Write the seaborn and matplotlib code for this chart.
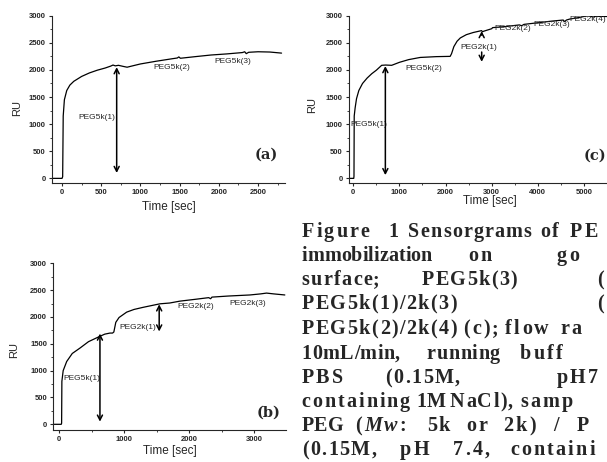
import numpy as np
import pandas as pd
import matplotlib
matplotlib.use("Agg")
import matplotlib.pyplot as plt
import seaborn as sns

# sensorgram (a): PEG5k(3)
time_a = [-130, 0, 8, 15, 30, 60, 100, 150, 250, 350, 450, 550, 620, 650, 680, 720, 780, 830, 900, 1000,
          1200, 1400, 1470, 1490, 1510, 1700, 1900, 2100, 2300, 2330, 2350, 2380, 2500, 2650, 2800]
ru_a = [0, 0, 30, 1150, 1450, 1620, 1720, 1790, 1880, 1945, 1995, 2035, 2070, 2090, 2075, 2085, 2065, 2050, 2075, 2110,
        2160, 2205, 2220, 2240, 2215, 2245, 2275, 2295, 2320, 2335, 2300, 2325, 2335, 2330, 2310]

# sensorgram (b): PEG5k(1)/2k(3)
time_b = [-90, 30, 36, 40, 60, 114, 200, 318, 450, 626, 700, 780, 820, 840, 870, 920, 1037, 1150, 1292, 1450,
          1549, 1700, 1857, 2100, 2300, 2330, 2350, 2600, 2934, 3100, 3190, 3300, 3472]
ru_b = [0, 0, 20, 800, 1000, 1170, 1320, 1420, 1540, 1640, 1680, 1700, 1700, 1720, 1900, 1990, 2090, 2140, 2180, 2220,
        2245, 2260, 2295, 2330, 2360, 2340, 2370, 2390, 2410, 2430, 2445, 2430, 2410]

# sensorgram (c): PEG5k(2)/2k(4)
time_c = [-90, 10, 15, 20, 40, 70, 120, 200, 300, 400, 500, 615, 700, 832, 1000, 1200, 1450, 1800, 2100, 2130,
          2180, 2250, 2320, 2450, 2600, 2780, 2800, 2850, 3000, 3020, 3300, 3600, 3650, 3700, 3900, 4300, 4550, 4580,
          4620, 4700, 4850, 5000, 5100, 5200, 5250, 5500]
ru_c = [0, 0, 40, 1150, 1300, 1470, 1620, 1750, 1850, 1930, 1995, 2085, 2090, 2085, 2140, 2190, 2230, 2245, 2250, 2300,
        2430, 2530, 2590, 2650, 2690, 2725, 2705, 2720, 2760, 2780, 2800, 2830, 2815, 2840, 2860, 2900, 2920, 2890,
        2920, 2940, 2960, 2985, 3000, 2975, 2990, 2985]

# injection labels (text, time, RU, ha)
labels_a = [("PEG5k(1)", 676, 1130, "right"), ("PEG5k(2)", 1400, 2040, "center"), ("PEG5k(3)", 2175, 2160, "center")]
labels_b = [("PEG5k(1)", 344, 857, "center"), ("PEG2k(1)", 1203, 1807, "center"),
            ("PEG2k(2)", 2100, 2192, "center"), ("PEG2k(3)", 2896, 2242, "center")]
labels_c = [("PEG5k(1)", 341, 1000, "center"), ("PEG5k(2)", 1530, 2030, "center"), ("PEG2k(1)", 2725, 2416, "center"),
            ("PEG2k(2)", 3451, 2767, "center"), ("PEG2k(3)", 4300, 2841, "center"), ("PEG2k(4)", 5076, 2933, "center")]

# arrows (time, RU start, RU end, style)
arrows_a = [(697, 2050, 100, "<->")]
arrows_b = [(626, 1690, 50, "<->"), (1538, 2235, 1730, "<->")]
arrows_c = [(695, 2070, 60, "<->"), (2783, 2640, 2715, "->"), (2783, 2330, 2150, "->")]

sns.set_style("ticks")
plt.rcParams["font.family"] = ["Liberation Sans", "DejaVu Sans"]

W, H = 607, 462
fig = plt.figure(figsize=(W / 100, H / 100), dpi=100)
renderer = fig.canvas.get_renderer()


def axes_px(left, top, right, bottom):
    return fig.add_axes([left / W, 1 - bottom / H, (right - left) / W, (bottom - top) / H])


def panel(ax, t, ru, labels, arrows, xlim, xmax_tick, ylim, xmajor, tag, tag_pos, xlab_y, ylab_xy):
    df = pd.DataFrame({"time": t, "RU": ru})
    sns.lineplot(data=df, x="time", y="RU", ax=ax, color="black", lw=0.9, sort=False, estimator=None)
    ax.set_xlim(*xlim)
    ax.set_ylim(*ylim)
    ax.set_xticks(np.arange(0, xmax_tick + 1, xmajor))
    ax.set_xticks(np.arange(0, xlim[1] + 1, xmajor / 2), minor=True)
    ax.set_yticks(np.arange(0, 3001, 500))
    ax.set_yticks(np.arange(0, 3001, 250), minor=True)
    ax.tick_params(which="major", length=2.5, width=0.8, pad=2, labelsize=5.5)
    ax.tick_params(which="minor", length=1.5, width=0.6)
    for lab in ax.get_xticklabels() + ax.get_yticklabels():
        lab.set_fontweight("bold")
    sns.despine(ax=ax)
    for s in ("left", "bottom"):
        ax.spines[s].set_linewidth(0.8)
    ax.set_xlabel("Time [sec]", fontsize=8.5)
    ax.xaxis.set_label_coords(0.5, xlab_y)
    ax.set_ylabel("RU", fontsize=8)
    ax.yaxis.set_label_coords(*ylab_xy)
    for txt, x, y, ha in labels:
        ax.text(x, y, txt, fontsize=6, ha=ha, va="center")
    for x, y0, y1, st in arrows:
        ax.annotate("", xy=(x, y1), xytext=(x, y0),
                    arrowprops=dict(arrowstyle=st + ",head_length=0.35,head_width=0.18", color="black", lw=1.1,
                                    shrinkA=0, shrinkB=0))
    ax.text(tag_pos[0], tag_pos[1], tag, fontsize=10.5, fontweight="bold", family="DejaVu Serif",
            ha=tag_pos[2], va="center")


ax_a = axes_px(52, 15.7, 285, 182.7)
panel(ax_a, time_a, ru_a, labels_a, arrows_a, (-128, 2844), 2500, (-80, 3000), 500, "(a)", (2600, 430, "center"),
      -0.11, (-0.129, 0.45))

ax_b = axes_px(53.3, 263.3, 286, 430)
panel(ax_b, time_b, ru_b, labels_b, arrows_b, (-92, 3490), 3000, (-106, 3000), 1000, "(b)", (3226, 216, "center"),
      -0.09, (-0.145, 0.48))

ax_c = axes_px(349, 15.7, 630.1, 182.7)
panel(ax_c, time_c, ru_c, labels_c, arrows_c, (-93, 6000), 5000, (-80, 3000), 1000, "(c)", (5000, 411, "left"),
      -0.074, (-0.112, 0.465))

# caption, cut by the right edge of the page: (baseline px, [(left px, right px, word)])
EDGE = 604
caption = [
    (237, [(301.7, 383.3, "Figure"), (388, 397, "1"), (408.3, 531.7, "Sensorgrams"), (540, 563.3, "of"),
           (570, EDGE, "PE")]),
    (261, [(301.7, 431.7, "immobilization"), (468.3, 493.3, "on"), (556.7, EDGE, "go")]),
    (285, [(301.7, 380, "surface;"), (421.7, 516.7, "PEG5k(3)"), (596.7, EDGE, "(")]),
    (309, [(301.7, 456.7, "PEG5k(1)/2k(3)"), (596.7, EDGE, "(")]),
    (334, [(301.7, 456.7, "PEG5k(2)/2k(4)"), (463, 500, "(c);"), (505, 553, "flow"), (560, EDGE, "ra")]),
    (359, [(301.7, 400, "10mL/min,"), (426.7, 500, "running"), (520, EDGE, "buff")]),
    (383, [(301.7, 343.3, "PBS"), (385, 460, "(0.15M,"), (556.7, EDGE, "pH7")]),
    (407, [(301.7, 410, "containing"), (416.7, 443.3, "1M"), (450, 513, "NaCl),"), (520, EDGE, "samp")]),
    (431, [(301.7, 343.3, "PEG"), (355, 413.3, "(Mw:"), (426.7, 450, "5k"), (466.7, 490, "or"),
           (503.3, 540, "2k)"), (553.3, 563, "/"), (576.7, EDGE, "P")]),
    (455, [(301.7, 376.7, "(0.15M,"), (400, 430, "pH"), (453.3, 493.3, "7.4,"), (510, EDGE, "containi")]),
]
italic_chars = {"(Mw:": {1, 2}}
cap_kw = dict(fontsize=14.5, fontweight="bold", family="Liberation Serif", va="baseline", ha="left")

for base, words in caption:
    for x0, x1, w in words:
        arts = []
        for i, ch in enumerate(w):
            style = "italic" if i in italic_chars.get(w, set()) else "normal"
            arts.append(fig.text(0, 1 - base / H, ch, fontstyle=style, **cap_kw))
        widths = [a.get_window_extent(renderer).width for a in arts]
        gap = 0
        if len(w) > 1:
            gap = (x1 - x0 - sum(widths)) / (len(w) - 1)
            gap = min(max(gap, 0), 2.2)
        x = x0
        for a, wd in zip(arts, widths):
            a.set_x(x / W)
            x += wd + gap

fig.savefig("out.png", dpi=100)
